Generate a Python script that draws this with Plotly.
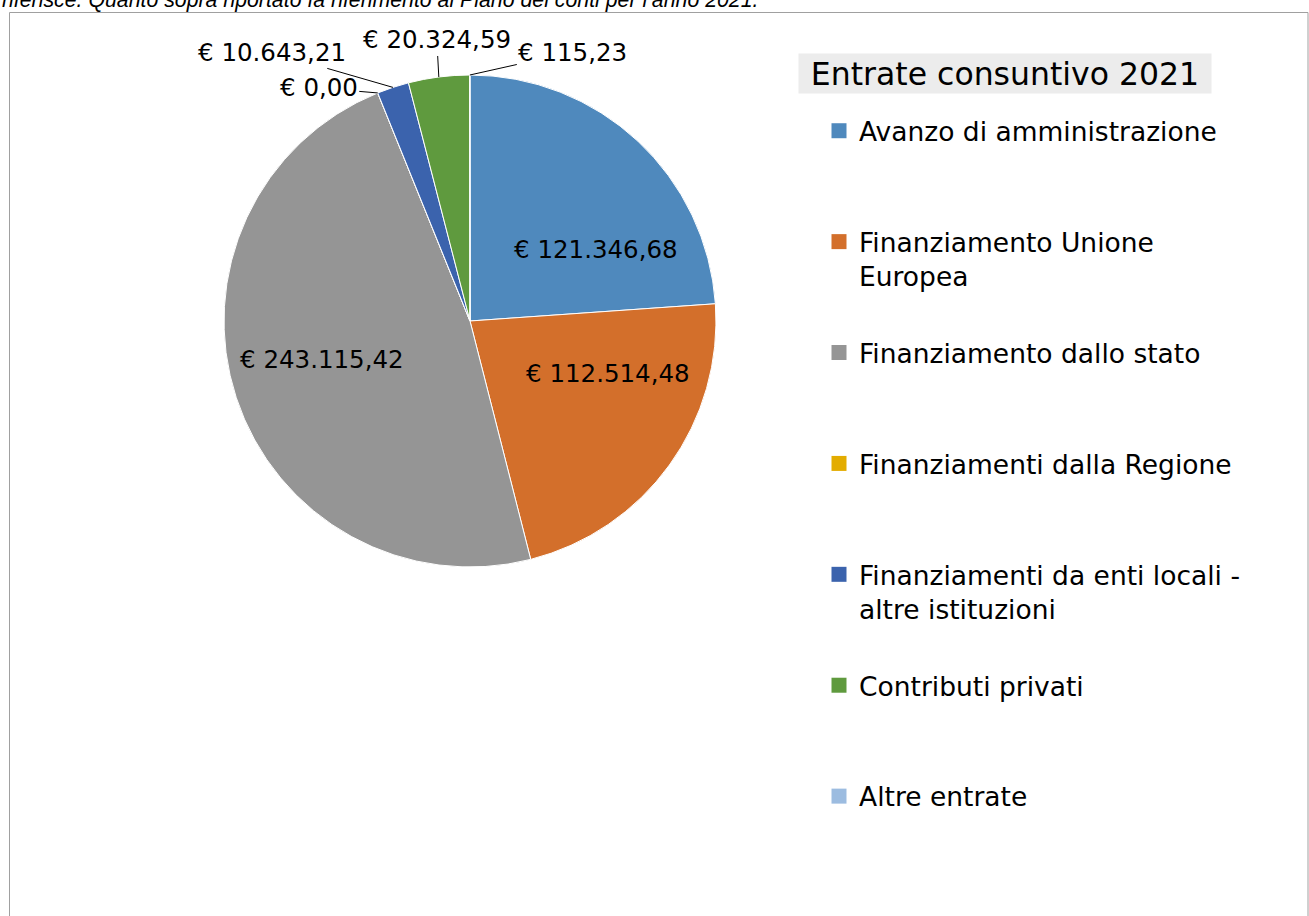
import math
import plotly.graph_objects as go

# ---------------- data ----------------
categories = [
    "Avanzo di amministrazione",
    "Finanziamento Unione Europea",
    "Finanziamento dallo stato",
    "Finanziamenti dalla Regione",
    "Finanziamenti da enti locali - altre istituzioni",
    "Contributi privati",
    "Altre entrate",
]
legend_labels = [
    "Avanzo di amministrazione",
    "Finanziamento Unione<br>Europea",
    "Finanziamento dallo stato",
    "Finanziamenti dalla Regione",
    "Finanziamenti da enti locali -<br>altre istituzioni",
    "Contributi privati",
    "Altre entrate",
]
values = [121346.68, 112514.48, 243115.42, 0.00, 10643.21, 20324.59, 115.23]
colors = ["#4F89BD", "#D36F2B", "#959595", "#E3AC00", "#3B63AD", "#5F9A3E", "#9CBCE0"]
chart_title = "Entrate consuntivo 2021"
note_text = "riferisce. Quanto sopra riportato fa riferimento al Piano dei conti per l’anno 2021."

# ---------------- layout constants ----------------
W, H = 1309, 916
CX, CY, R = 470, 321, 246          # pie centre / radius in pixels
FONT = "DejaVu Sans, Verdana, sans-serif"
LABEL_SIZE = 24.5
# inside labels: placed at 0.6 R on the slice bisector, then nudged (px)
inside_shift = {0: (25, 36), 1: (18, -34), 2: (-8, -7)}
# outside labels: leader line from slice edge to label, label offset (px)
label_offsets = {3: (-59, -5), 4: (-121, -35), 5: (-2, -37), 6: (103, -23)}


def euro(v):
    s = f"{v:,.2f}"
    s = s.replace(",", "X").replace(".", ",").replace("X", ".")
    return "€ " + s


fig = go.Figure()

fig.add_trace(go.Pie(
    labels=categories,
    values=values,
    sort=False,
    direction="clockwise",
    rotation=0,
    marker=dict(colors=colors, line=dict(color="white", width=1)),
    textinfo="none",
    domain=dict(x=[(CX - R) / W, (CX + R) / W], y=[1 - (CY + R) / H, 1 - (CY - R) / H]),
    showlegend=False,
    hovertemplate="%{label}<br>€ %{value:,.2f}<extra></extra>",
))

# legend entries (one per category)
for i, (lab, col) in enumerate(zip(legend_labels, colors)):
    name = lab if "<br>" in lab else lab + "<br> "
    fig.add_trace(go.Scatter(
        x=[None], y=[None], mode="markers", name=name,
        legendgroup=str(i),
        marker=dict(symbol="square", size=15, color=col, line=dict(width=0)),
        hoverinfo="skip",
    ))

# data labels
total = sum(values)
annotations = []
cum = 0.0
for i, v in enumerate(values):
    mid = cum + v / 2.0
    cum += v
    th = 2 * math.pi * mid / total
    if i in inside_shift:
        px = CX + 0.6 * R * math.sin(th)
        py = CY - 0.6 * R * math.cos(th)
        sx, sy = inside_shift[i]
        annotations.append(dict(
            x=px / W, y=1 - py / H, xref="paper", yref="paper",
            xanchor="center", yanchor="middle", showarrow=False,
            xshift=sx, yshift=-sy, text=euro(v),
            font=dict(family=FONT, size=LABEL_SIZE, color="black"),
        ))
    elif i in label_offsets:
        px = CX + R * math.sin(th)
        py = CY - R * math.cos(th)
        ax, ay = label_offsets[i]
        annotations.append(dict(
            x=px / W, y=1 - py / H, xref="paper", yref="paper",
            text=euro(v), showarrow=True, arrowhead=0, arrowwidth=1,
            arrowcolor="black", ax=ax, ay=ay, standoff=0,
            font=dict(family=FONT, size=LABEL_SIZE, color="black"),
        ))

# legend title box
annotations.append(dict(
    x=1005 / W, y=1 - 73.5 / H, xref="paper", yref="paper",
    xanchor="center", yanchor="middle", showarrow=False,
    text=chart_title, bgcolor="#ECECEC", width=410, height=37,
    font=dict(family=FONT, size=31.5, color="black"),
))

# cut-off note at the very top
annotations.append(dict(
    x=0, y=1.0, xref="paper", yref="paper",
    xanchor="left", yanchor="middle", showarrow=False,
    text="<i>" + note_text + "</i>",
    font=dict(family="Liberation Sans Narrow, Arial Narrow, Liberation Sans, sans-serif", size=21.3, color="black"),
))

fig.update_layout(
    width=W, height=H,
    margin=dict(l=0, r=0, t=0, b=0),
    paper_bgcolor="white", plot_bgcolor="white",
    separators=",.",
    xaxis=dict(visible=False), yaxis=dict(visible=False),
    showlegend=True,
    legend=dict(
        x=819 / W, xanchor="left", y=1 - 107 / H, yanchor="top",
        traceorder="grouped", tracegroupgap=39, valign="top",
        font=dict(family=FONT, size=26.5, color="black"),
        bgcolor="rgba(0,0,0,0)", itemsizing="trace",
    ),
    annotations=annotations,
    shapes=[dict(
        type="rect", xref="paper", yref="paper",
        x0=9.5 / W, x1=1308 / W, y0=-0.02, y1=1 - 12.5 / H,
        line=dict(color="#A0A0A0", width=1), fillcolor="rgba(0,0,0,0)", layer="below",
    )],
)

fig.write_html(
    "out.html",
    config={"displayModeBar": False},
    post_script="document.body.style.margin='0';document.body.style.overflow='hidden';",
)
